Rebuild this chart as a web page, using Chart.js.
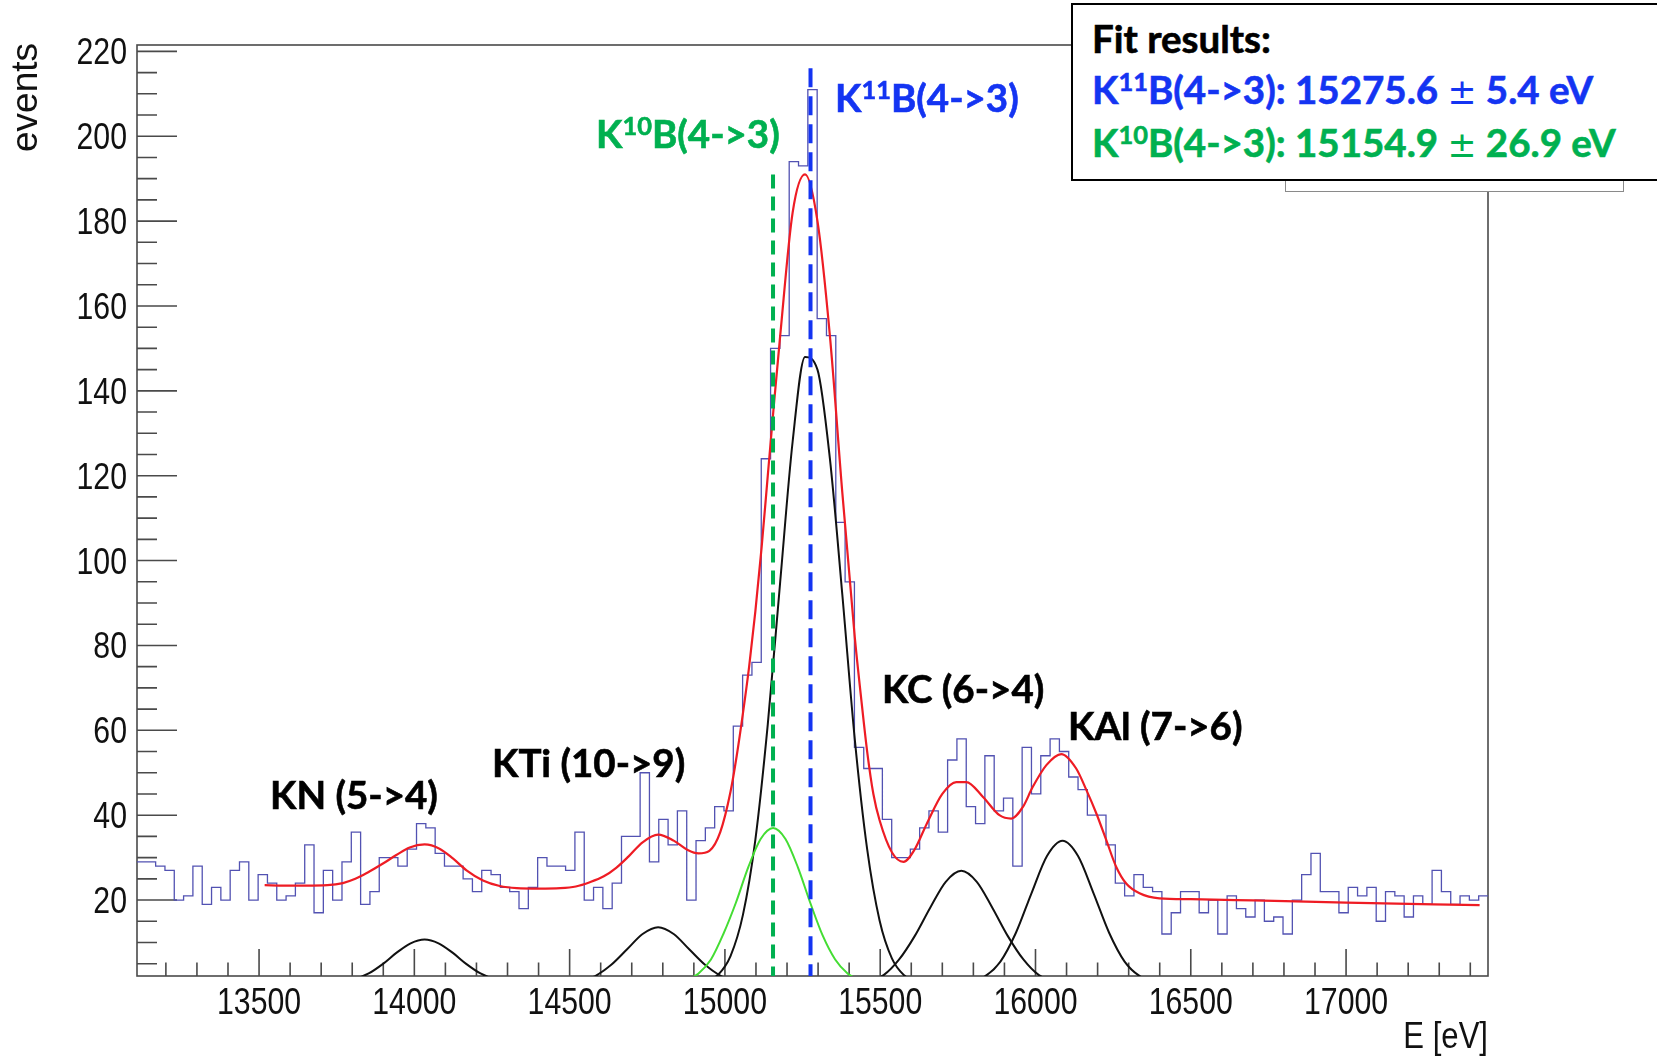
<!DOCTYPE html>
<html>
<head>
<meta charset="utf-8">
<title>K-B(4-&gt;3) fit</title>
<script src="https://cdn.jsdelivr.net/npm/chart.js@4.4.1/dist/chart.umd.min.js"></script>
<style>
  html, body { margin: 0; padding: 0; background: #fff; overflow: hidden; }
  #wrap { position: relative; width: 1657px; height: 1059px; overflow: hidden; }
  #spectrum { position: absolute; left: 0; top: 0; }
  .tag {
    position: absolute;
    font-family: Lato, 'Noto Sans', sans-serif;
    font-weight: 700;
    font-size: 38.5px;
    line-height: 1;
    white-space: nowrap;
    color: #000;
    -webkit-text-stroke: 0.6px currentColor;
  }
  .tag sup { font-size: 0.66em; vertical-align: 0.5em; line-height: 0; }
  .tag .pm { font-family: 'DejaVu Sans', sans-serif; font-weight: 400; font-size: 0.9em; -webkit-text-stroke: 0; }
  #statBox {
    position: absolute; left: 1285px; top: 120px; width: 337px; height: 70px;
    border: 1.5px solid #8a8a8a; background: #fff;
  }
  #fitBox {
    position: absolute; left: 1071px; top: 3px; width: 700px; height: 174px;
    border: 2px solid #000; background: #fff;
  }
</style>
</head>
<body>
<div id="wrap">
  <canvas id="spectrum" width="1657" height="1059"></canvas>
  <div class="tag" id="tagKN">KN (5-&gt;4)</div>
  <div class="tag" id="tagKTi">KTi (10-&gt;9)</div>
  <div class="tag" id="tagKC">KC (6-&gt;4)</div>
  <div class="tag" id="tagKAl">KAl (7-&gt;6)</div>
  <div class="tag" id="tagB10" style="color:#00b050">K<sup>10</sup>B(4-&gt;3)</div>
  <div class="tag" id="tagB11" style="color:#1434f2">K<sup>11</sup>B(4-&gt;3)</div>
  <div id="statBox"></div>
  <div id="fitBox"></div>
  <div class="tag" id="fitHead">Fit results:</div>
  <div class="tag" id="fitB11" style="color:#1434f2"></div>
  <div class="tag" id="fitB10" style="color:#00b050"></div>
</div>
<script>
// histogram binning (eV)
const binStart = 13107;
const binWidth = 30;

// events per bin
const counts = [
  29, 29, 28, 27, 20, 21, 28, 19, 23, 20,
  27, 29, 20, 26, 24, 20, 21, 24, 33, 17,
  27, 20, 29, 36, 19, 22, 30, 30, 28, 32,
  38, 37, 31, 28, 28, 25, 22, 27, 26, 23,
  22, 18, 23, 30, 28, 28, 27, 36, 20, 23,
  18, 24, 35, 35, 50, 29, 39, 33, 41, 20,
  34, 37, 42, 41, 61, 73, 76, 124, 150, 153,
  194, 193, 211, 157, 153, 109, 95, 56, 51, 51,
  39, 30, 30, 32, 37, 41, 36, 53, 58, 42,
  38, 54, 41, 44, 28, 56, 45, 54, 58, 55,
  49, 46, 40, 40, 33, 24, 21, 26, 23, 22,
  12, 17, 22, 22, 17, 20, 12, 21, 18, 16,
  20, 15, 16, 12, 20, 26, 31, 22, 22, 17,
  23, 21, 23, 15, 22, 21, 16, 21, 19, 27,
  22, 19, 21, 20, 21
];

// total fit function
const fitEnergy = [13518, 13580, 13650, 13720, 13770, 13810, 13850, 13899, 13942, 13985,
  14033, 14081, 14124, 14168, 14221, 14275, 14330, 14400, 14470, 14520,
  14565, 14610, 14650, 14690, 14735, 14785, 14835, 14880, 14915, 14950,
  14985, 15018, 15038, 15058, 15078, 15098, 15118, 15138, 15158, 15178,
  15218, 15258, 15298, 15338, 15378, 15418, 15438, 15458, 15478, 15498,
  15538, 15575, 15610, 15650, 15700, 15745, 15777, 15831, 15884, 15922,
  15960, 15990, 16035, 16083, 16131, 16164, 16196, 16228, 16260, 16292,
  16335, 16399, 16500, 16700, 17000, 17430];
const fitTotal = [23.5, 23.4, 23.4, 23.5, 24.0, 25.0, 26.5, 28.6, 30.6, 32.4,
  33.1, 32.1, 29.8, 27.0, 24.6, 23.3, 22.8, 22.7, 22.8, 23.2,
  24.2, 25.6, 27.6, 30.3, 33.6, 35.4, 34.0, 31.8, 31.0, 31.6,
  36.0, 45.5, 54, 64, 75, 88, 103, 120, 137, 153,
  182, 191, 180, 153, 116, 82, 68, 55, 45, 38.8,
  31.2, 29.0, 31.8, 38.0, 45.0, 47.8, 47.8, 44.3, 40.0, 39.2,
  42.0, 46.5, 51.8, 54.4, 51.0, 45.9, 40.4, 34.1, 27.8, 23.9,
  21.6, 20.4, 20.2, 19.9, 19.4, 18.8];

// single-line components
const knEnergy = [13793, 13853, 13898, 13943, 13988, 14033, 14078, 14123, 14168, 14213, 14273];
const knFit = [0.9, 2.7, 4.9, 7.6, 9.8, 10.7, 9.8, 7.6, 4.9, 2.7, 0.9];

const tiEnergy = [14535, 14585, 14635, 14685, 14735, 14785, 14835, 14885, 14935, 14985, 15035];
const tiFit = [0.8, 2.2, 4.8, 8.4, 12.0, 13.6, 12.0, 8.4, 4.8, 2.2, 0.8];

const b10Energy = [14875, 14915, 14955, 14995, 15035, 15075, 15115, 15155, 15195, 15235, 15275, 15315, 15355, 15395, 15435];
const b10Fit = [1.0, 2.7, 6.0, 12.0, 19.3, 27.7, 34.4, 37.0, 34.4, 27.7, 19.3, 11.6, 6.0, 2.7, 1.0];

const b11Energy = [14938, 14978, 15018, 15058, 15098, 15138, 15178, 15218, 15258, 15298,
  15338, 15378, 15418, 15458, 15498, 15538, 15578, 15618];
const b11Fit = [0.8, 2.4, 6.8, 16.5, 34.2, 61.4, 95, 128, 148, 145,
  124, 92, 58, 32, 15.2, 6.2, 2.2, 0.65];

const cEnergy = [15461, 15511, 15561, 15611, 15661, 15711, 15761, 15811, 15861, 15911, 15961, 16011, 16061];
const cFit = [0.8, 2.3, 6.0, 11.5, 18.2, 24.3, 26.9, 24.3, 18.2, 11.5, 6.0, 2.3, 0.8];

const alEnergy = [15787, 15837, 15887, 15937, 15987, 16037, 16087, 16137, 16187, 16237, 16287, 16337, 16387];
const alFit = [0.6, 2.0, 5.5, 12.3, 21.6, 30.4, 34.0, 30.4, 21.6, 12.3, 5.5, 2.0, 0.6];

// fitted line positions (eV)
const k11bMean = 15275.6, k11bErr = 5.4;
const k10bMean = 15154.9, k10bErr = 26.9;
const k11bLineTop = 216;
const k10bLineTop = 191;

// axis ticks
const xTicks = [13500, 14000, 14500, 15000, 15500, 16000, 16500, 17000];
const yTicks = [20, 40, 60, 80, 100, 120, 140, 160, 180, 200, 220];

const xMin = binStart, xMax = binStart + binWidth * counts.length;
const yMin = 2.1, yMax = 221.5;

const toPoints = (xs, ys) => xs.map((x, i) => ({ x, y: ys[i] }));

// histogram outline: one point per lower bin edge, plus the closing edge
const histPoints = counts.map((c, i) => ({ x: binStart + i * binWidth, y: c }));
histPoints.push({ x: xMax, y: counts[counts.length - 1] });

const axisFont = "'Liberation Sans', Arial, Helvetica, sans-serif";
const squeeze = 0.84;

// horizontally condensed text, Helvetica-narrow look
function narrowText(ctx, text, x, y, align) {
  ctx.save();
  ctx.translate(x, y);
  ctx.scale(squeeze, 1);
  ctx.textAlign = align;
  ctx.fillText(text, 0, 0);
  ctx.restore();
}

// ROOT-style frame, inward ticks and axis labels
const rootFrame = {
  id: 'rootFrame',
  beforeDatasetsDraw(chart) {
    const { ctx, chartArea: a, scales: { x, y } } = chart;
    ctx.save();
    ctx.strokeStyle = '#4a4a4a';
    ctx.lineWidth = 1.6;
    ctx.strokeRect(a.left, a.top, a.right - a.left, a.bottom - a.top);
    ctx.beginPath();
    for (let v = 13200; v <= 17400; v += 100) {
      const px = x.getPixelForValue(v);
      const len = v % 500 === 0 ? 27 : 13.5;
      ctx.moveTo(px, a.bottom);
      ctx.lineTo(px, a.bottom - len);
    }
    for (let v = 5; v <= 220; v += 5) {
      const py = y.getPixelForValue(v);
      const len = v % 20 === 0 ? 40 : 20;
      ctx.moveTo(a.left, py);
      ctx.lineTo(a.left + len, py);
    }
    ctx.stroke();

    ctx.fillStyle = '#111';
    ctx.textBaseline = 'alphabetic';
    ctx.font = '36px ' + axisFont;
    xTicks.forEach((v) => narrowText(ctx, String(v), x.getPixelForValue(v), 1014, 'center'));
    yTicks.forEach((v) => narrowText(ctx, String(v), 127, y.getPixelForValue(v) + 13, 'right'));

    ctx.font = '37px ' + axisFont;
    narrowText(ctx, 'E [eV]', a.right, 1048, 'right');

    // y title, rotated, ending at the top of the frame
    ctx.save();
    ctx.translate(37, 43);
    ctx.rotate(-Math.PI / 2);
    ctx.textAlign = 'right';
    ctx.fillText('events', 0, 0);
    ctx.restore();
    ctx.restore();
  }
};

const curve = (data, color, width) => ({
  data, borderColor: color, borderWidth: width,
  cubicInterpolationMode: 'monotone', pointRadius: 0, fill: false
});

const marker = (mean, top, color, dash) => ({
  data: [{ x: mean, y: top }, { x: mean, y: yMin }],
  borderColor: color, borderWidth: 4, borderDash: dash,
  pointRadius: 0, fill: false, clip: 0
});

new Chart(document.getElementById('spectrum'), {
  type: 'line',
  data: {
    datasets: [
      marker(k11bMean, k11bLineTop, '#1434f2', [19, 9]),
      marker(k10bMean, k10bLineTop, '#00b050', [14, 8]),
      curve(toPoints(fitEnergy, fitTotal), '#ee1c24', 2.2),
      curve(toPoints(b10Energy, b10Fit), '#44dd33', 2),
      curve(toPoints(b11Energy, b11Fit), '#111', 2),
      curve(toPoints(knEnergy, knFit), '#111', 2),
      curve(toPoints(tiEnergy, tiFit), '#111', 2),
      curve(toPoints(cEnergy, cFit), '#111', 2),
      curve(toPoints(alEnergy, alFit), '#111', 2),
      {
        data: histPoints, stepped: 'before',
        borderColor: '#5252b2', borderWidth: 1.3,
        pointRadius: 0, fill: false
      }
    ]
  },
  options: {
    responsive: false,
    animation: false,
    events: [],
    layout: { padding: { top: 45, right: 169, left: 0, bottom: 0 } },
    plugins: { legend: { display: false }, tooltip: { enabled: false } },
    scales: {
      x: {
        type: 'linear', min: xMin, max: xMax,
        afterFit: (s) => { s.height = 83; },
        afterBuildTicks: (s) => { s.ticks = xTicks.map((value) => ({ value })); },
        grid: { display: false, drawTicks: false },
        border: { display: false },
        ticks: { display: false }
      },
      y: {
        type: 'linear', min: yMin, max: yMax,
        afterFit: (s) => { s.width = 137; },
        afterBuildTicks: (s) => { s.ticks = yTicks.map((value) => ({ value })); },
        grid: { display: false, drawTicks: false },
        border: { display: false },
        ticks: { display: false }
      }
    }
  },
  plugins: [rootFrame]
});

// fit result box text
document.getElementById('fitB11').innerHTML =
  'K<sup>11</sup>B(4-&gt;3): ' + k11bMean.toFixed(1) + ' <span class="pm">±</span> ' + k11bErr.toFixed(1) + ' eV';
document.getElementById('fitB10').innerHTML =
  'K<sup>10</sup>B(4-&gt;3): ' + k10bMean.toFixed(1) + ' <span class="pm">±</span> ' + k10bErr.toFixed(1) + ' eV';

// place labels by their text baseline
const tagSize = 38.5;
const tagBaselines = [
  ['tagKN', 270, 809], ['tagKTi', 492, 777], ['tagKC', 882, 703], ['tagKAl', 1068, 740],
  ['tagB10', 596, 148], ['tagB11', 835, 112],
  ['fitHead', 1092, 53], ['fitB11', 1092, 104], ['fitB10', 1092, 157]
];
tagBaselines.forEach(([id, left, base]) => {
  const el = document.getElementById(id);
  el.style.left = left + 'px';
  el.style.top = (base - 0.887 * tagSize) + 'px';
});
</script>
</body>
</html>
